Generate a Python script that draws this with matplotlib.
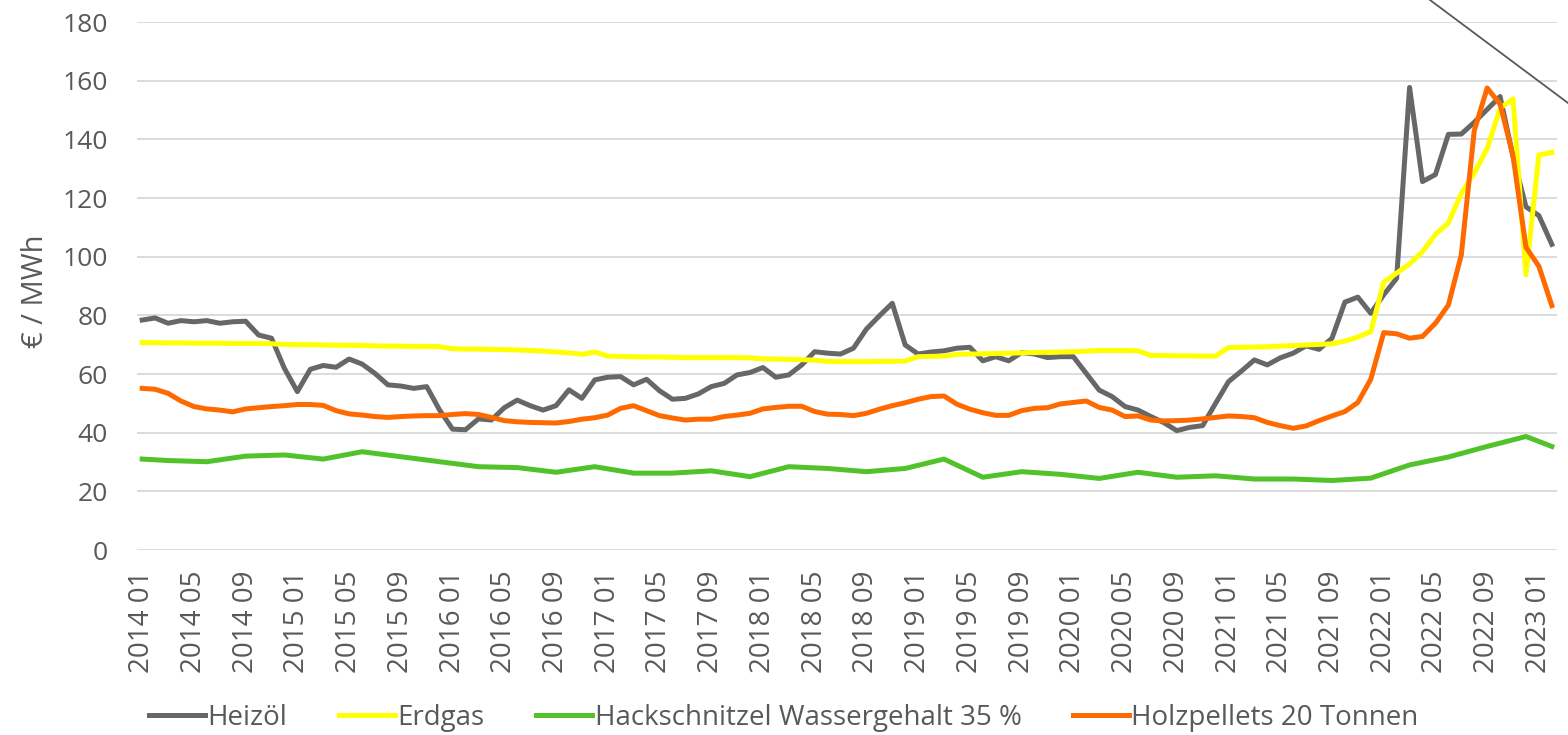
import numpy as np
import pandas as pd
import matplotlib
matplotlib.use("Agg")
import matplotlib.pyplot as plt
from matplotlib.lines import Line2D

plt.rcParams['font.family'] = ['Open Sans', 'DejaVu Sans']

# monthly categories 2014 01 .. 2023 02
months = pd.date_range("2014-01-01", periods=110, freq="MS").strftime("%Y %m").tolist()

heizoel = [
    78.4, 79.1, 77.3, 78.2, 77.8, 78.2, 77.3, 77.8, 78.0, 73.3,
    72.2, 61.9, 54.0, 61.6, 62.9, 62.3, 65.1, 63.4, 60.2, 56.3,
    55.9, 55.1, 55.7, 47.7, 41.2, 41.0, 44.7, 44.3, 48.5, 51.1,
    49.2, 47.7, 49.2, 54.6, 51.7, 58.0, 58.9, 59.1, 56.3, 58.2,
    54.3, 51.4, 51.7, 53.2, 55.7, 56.8, 59.7, 60.5, 62.2, 58.9,
    59.7, 63.1, 67.6, 67.1, 66.8, 68.8, 75.3, 79.8, 84.1, 69.9,
    66.8, 67.5, 67.9, 68.8, 69.1, 64.5, 65.9, 64.5, 67.3, 66.8,
    65.6, 65.9, 65.9, 60.2, 54.5, 52.3, 48.9, 47.7, 45.5, 43.4,
    40.7, 41.8, 42.4, 50.0, 57.4, 61.0, 64.8, 63.1, 65.5, 67.1,
    69.6, 68.4, 72.2, 84.5, 86.2, 80.7, 87.0, 92.6, 157.7, 125.6,
    128.0, 141.7, 141.8, 145.8, 150.2, 154.6, 134.1, 117.0, 114.0, 104.2,
]

erdgas = [
    70.7, 70.7, 70.6, 70.6, 70.5, 70.5, 70.5, 70.4, 70.4, 70.4,
    70.3, 70.1, 70.0, 70.0, 69.9, 69.8, 69.8, 69.7, 69.6, 69.5,
    69.5, 69.4, 69.4, 69.3, 68.6, 68.5, 68.5, 68.4, 68.3, 68.2,
    68.0, 67.8, 67.5, 67.2, 66.7, 67.5, 66.1, 66.0, 65.9, 65.8,
    65.8, 65.7, 65.6, 65.6, 65.6, 65.6, 65.6, 65.5, 65.2, 65.1,
    65.0, 64.9, 64.7, 64.3, 64.2, 64.2, 64.2, 64.3, 64.3, 64.4,
    65.9, 66.0, 66.1, 66.7, 66.8, 66.9, 67.0, 67.1, 67.2, 67.3,
    67.4, 67.5, 67.6, 67.8, 68.0, 68.0, 68.0, 67.9, 66.3, 66.3,
    66.2, 66.2, 66.1, 66.1, 69.0, 69.1, 69.2, 69.3, 69.5, 69.7,
    69.9, 70.1, 70.3, 71.2, 72.6, 74.4, 91.3, 94.4, 97.5, 101.7,
    107.6, 111.5, 121.5, 128.5, 136.8, 150.6, 153.8, 93.8, 134.7, 135.5,
]

# wood chips: quarterly values only
hack_idx = [0, 2, 5, 8, 11, 14, 17, 20, 23, 26, 29, 32, 35, 38, 41, 44, 47, 50, 53,
            56, 59, 62, 65, 68, 71, 74, 77, 80, 83, 86, 89, 92, 95, 98, 101, 104, 107, 109]
hack = [31.0, 30.5, 30.1, 32.0, 32.4, 31.0, 33.5, 31.8, 30.1, 28.4, 28.1, 26.5, 28.4,
        26.2, 26.2, 27.0, 25.0, 28.4, 27.8, 26.7, 27.8, 31.0, 24.8, 26.7, 25.8, 24.4,
        26.5, 24.8, 25.3, 24.2, 24.2, 23.7, 24.5, 29.0, 31.7, 35.3, 38.7, 35.3]

pellets = [
    55.1, 54.8, 53.4, 50.8, 48.9, 48.1, 47.7, 47.1, 48.1, 48.5,
    48.9, 49.2, 49.6, 49.6, 49.3, 47.5, 46.4, 46.0, 45.5, 45.2,
    45.5, 45.7, 45.8, 45.8, 46.2, 46.5, 46.2, 45.2, 44.1, 43.7,
    43.5, 43.4, 43.3, 43.8, 44.6, 45.1, 46.0, 48.3, 49.2, 47.5,
    45.8, 45.0, 44.3, 44.6, 44.6, 45.5, 46.0, 46.6, 48.1, 48.6,
    49.0, 49.0, 47.2, 46.3, 46.2, 45.8, 46.6, 48.0, 49.2, 50.2,
    51.4, 52.3, 52.5, 49.7, 48.0, 46.8, 45.9, 45.9, 47.5, 48.3,
    48.5, 49.8, 50.3, 50.8, 48.6, 47.7, 45.5, 45.7, 44.3, 44.0,
    44.1, 44.3, 44.7, 45.2, 45.7, 45.5, 45.1, 43.5, 42.4, 41.5,
    42.3, 44.1, 45.7, 47.2, 50.3, 58.2, 74.1, 73.7, 72.2, 72.8,
    77.3, 83.5, 100.6, 142.9, 157.5, 152.0, 134.4, 103.2, 96.7, 83.3,
]

x = np.arange(len(months))
txt = '#595959'

fig = plt.figure(figsize=(15.68, 7.35), dpi=100)
ax = fig.add_axes([137/1568, 1 - 550/735, (1557 - 137)/1568, (550 - 22)/735])

ax.plot(x, heizoel, color='#676767', lw=3.6, label='Heizöl', solid_joinstyle='round')
ax.plot(x, erdgas, color='#FFFF00', lw=3.6, label='Erdgas', solid_joinstyle='round')
ax.plot(np.array(hack_idx), hack, color='#52C22B', lw=3.6,
        label='Hackschnitzel Wassergehalt 35 %', solid_joinstyle='round')
ax.plot(x, pellets, color='#FF6A00', lw=3.6, label='Holzpellets 20 Tonnen',
        solid_joinstyle='round')

ax.set_ylim(0, 180)
ax.set_yticks(np.arange(0, 181, 20))
ax.set_xlim(-0.4, 109.4)
ax.set_xticks(x[::4])
ax.set_xticklabels(months[::4], rotation=90)
ax.grid(axis='y', color='#d9d9d9', lw=1.3)
ax.set_axisbelow(True)
for s in ax.spines.values():
    s.set_visible(False)
ax.tick_params(axis='y', length=0, pad=21, labelsize=19, labelcolor=txt)
ax.tick_params(axis='x', length=0, pad=15, labelsize=20, labelcolor=txt)
ax.set_ylabel('€ / MWh', fontsize=21, color=txt)
ax.yaxis.set_label_coords((50 - 137) / 1420, 0.49)

fig.legend(loc='center', bbox_to_anchor=(0.5, 1 - 718/735), ncol=4, frameon=False,
           fontsize=20, labelcolor=txt, handlelength=2.0, handletextpad=0.1,
           columnspacing=1.86)

# thin diagonal stroke in the top right corner of the picture
fig.add_artist(Line2D([1430/1568, 1.0], [1.0, 1 - 103/735], transform=fig.transFigure,
                      color='#595959', lw=1.3))

fig.savefig('out.png', dpi=100)
